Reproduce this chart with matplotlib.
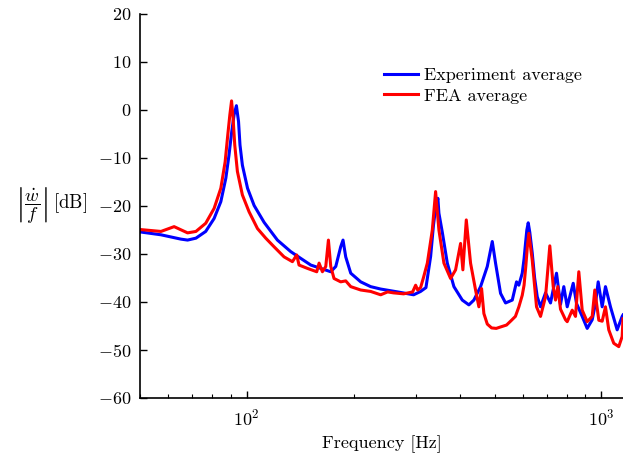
import matplotlib
matplotlib.use("Agg")
import matplotlib.pyplot as plt

plt.rcParams["font.family"] = "serif"
plt.rcParams["font.serif"] = ["cmr10"]
plt.rcParams["mathtext.fontset"] = "cm"
plt.rcParams["axes.formatter.use_mathtext"] = True
plt.rcParams["font.size"] = 13

# Averaged frequency response, experiment
exp_freq = [50, 57.3, 65.2, 68.1, 71.9, 76.6, 80.9, 84.5, 87.3, 89.1, 90.7, 92.1,
            93.5, 94.8, 95.7, 97.2, 100.5, 104.9, 111.9, 122.0, 133.0, 141.9, 151.5,
            161.7, 172.5, 178.2, 184.0, 186.8, 190.1, 196.4, 209.5, 223.5, 238.5,
            266.3, 295.4, 309.1, 320.0, 329.9, 336.0, 340.7, 345.8, 348.1, 355.9,
            367.6, 383.7, 405.1, 422.9, 436.8, 456.2, 476.5, 492.2, 502.8, 519.4,
            536.5, 560.4, 576.2, 584.9, 597.9, 605.0, 610.9, 616.0, 621.6, 628.0,
            638.0, 648.0, 659.0, 673.3, 695.5, 718.4, 746.9, 766.5, 783.1, 800.6,
            832.4, 850.4, 882.4, 911.5, 941.6, 962.0, 978.9, 1004.6, 1026.3, 1060.1,
            1107.2, 1143.7, 1150]
exp_db = [-25.4, -26.0, -26.9, -27.1, -26.7, -25.3, -22.6, -19.1, -14.2, -9.4, -4.5, -1.0,
          0.9, -2.4, -7.3, -11.5, -16.3, -19.9, -23.4, -27.1, -29.5, -30.9, -32.3,
          -33.0, -33.7, -32.6, -28.5, -27.1, -30.6, -34.0, -35.8, -36.8, -37.3,
          -37.9, -38.5, -37.8, -37.0, -30.5, -24.0, -20.5, -18.4, -21.5, -25.5,
          -31.9, -36.8, -39.6, -40.6, -39.6, -36.8, -32.6, -27.4, -31.9, -38.2,
          -40.2, -39.6, -35.8, -36.5, -34.0, -31.0, -27.7, -25.0, -23.5, -25.5,
          -29.8, -35.0, -38.9, -41.0, -38.1, -40.2, -34.0, -40.5, -36.8, -41.0,
          -36.1, -40.3, -43.0, -45.5, -43.7, -40.3, -35.8, -41.0, -36.8, -41.0,
          -45.8, -43.0, -42.7]

# Averaged frequency response, finite element model
fea_freq = [50, 57.3, 62.4, 68.1, 71.9, 76.6, 80.9, 84.5, 86.9, 88.4, 89.6, 90.6,
            91.5, 92.5, 94.1, 97.2, 101.5, 107.2, 113.1, 119.4, 127.4, 134.5, 138.3,
            140.4, 148.3, 157.5, 159.9, 163.4, 167.0, 169.9, 172.5, 176.2, 184.0,
            190.1, 196.4, 209.5, 223.5, 238.5, 249.5, 259.4, 276.9, 293.5, 299.3,
            303.2, 309.1, 315.2, 322.9, 333.5, 340.7, 348.1, 359.6, 375.5, 387.9,
            400.7, 406.7, 415.8, 427.5, 441.6, 451.2, 459.2, 466.1, 476.5, 490.0,
            505.0, 519.4, 540.0, 556.0, 572.0, 585.0, 597.9, 605.0, 612.0, 618.0,
            624.1, 638.0, 656.0, 673.3, 695.5, 715.1, 731.1, 742.1, 753.2, 766.5,
            791.8, 800.6, 827.0, 844.9, 863.2, 882.4, 911.5, 941.6, 957.6, 982.8,
            1004.6, 1026.3, 1048.5, 1083.1, 1118.8, 1143.7, 1150]
fea_db = [-24.9, -25.3, -24.3, -25.6, -25.3, -23.6, -20.5, -16.3, -10.8, -5.2, -1.0, 1.9,
          -1.7, -7.3, -12.8, -17.7, -21.2, -24.7, -26.7, -28.5, -30.6, -31.6, -30.2,
          -32.3, -33.0, -33.7, -31.9, -33.7, -32.6, -27.1, -32.6, -35.1, -35.8,
          -35.6, -36.8, -37.5, -37.8, -38.5, -37.9, -38.1, -38.3, -37.9, -36.5,
          -37.5, -37.0, -34.8, -31.9, -25.0, -17.0, -25.0, -31.9, -35.1, -33.3,
          -27.8, -33.3, -22.9, -31.9, -37.5, -41.0, -37.2, -42.4, -44.6, -45.4,
          -45.5, -45.2, -44.8, -43.9, -43.0, -41.0, -38.6, -36.5, -32.5, -28.5,
          -25.7, -31.3, -41.0, -43.0, -38.9, -28.3, -36.8, -39.6, -36.8, -41.5,
          -43.7, -44.1, -41.7, -43.0, -33.7, -41.7, -44.1, -43.0, -37.5, -43.8,
          -44.0, -41.0, -45.8, -48.6, -49.3, -47.2, -43.5]

y_ticks = [-60, -50, -40, -30, -20, -10, 0, 10, 20]

fig = plt.figure(figsize=(6.23, 4.59), dpi=100)
ax = fig.add_axes([0.2247, 0.1329, 0.7753, 0.8366])

ax.semilogx(exp_freq, exp_db, color=(0, 0, 1), lw=2.2, label="Experiment average")
ax.semilogx(fea_freq, fea_db, color=(1, 0, 0), lw=2.2, label="FEA average")

ax.set_xlim(50, 1150)
ax.set_ylim(-60, 20)
ax.set_yticks(y_ticks)
ax.set_yticklabels([f"${v}$" if v >= 0 else f"$-{abs(v)}$" for v in y_ticks])

for side in ("top", "right"):
    ax.spines[side].set_visible(False)
for side in ("left", "bottom"):
    ax.spines[side].set_linewidth(1.2)

ax.tick_params(axis="both", which="both", direction="in", labelsize=13)
ax.tick_params(axis="both", which="major", length=5, width=1.0)
ax.tick_params(axis="x", which="minor", length=3, width=0.8)
ax.tick_params(axis="y", which="major", pad=6.5)
ax.tick_params(axis="x", which="major", pad=7)

ax.set_xlabel("Frequency [Hz]", fontsize=13, labelpad=5)
fig.text(0.024, 0.553, r"$\left|\dfrac{\dot{w}}{f}\right|\,\mathrm{[dB]}$", fontsize=13.5,
         ha="left", va="center")

ax.legend(loc="upper left", bbox_to_anchor=(0.4855, 0.885), frameon=False,
          handlelength=1.9, handletextpad=0.33, labelspacing=0.28, borderpad=0,
          fontsize=13)

fig.savefig("out.png", dpi=100)
